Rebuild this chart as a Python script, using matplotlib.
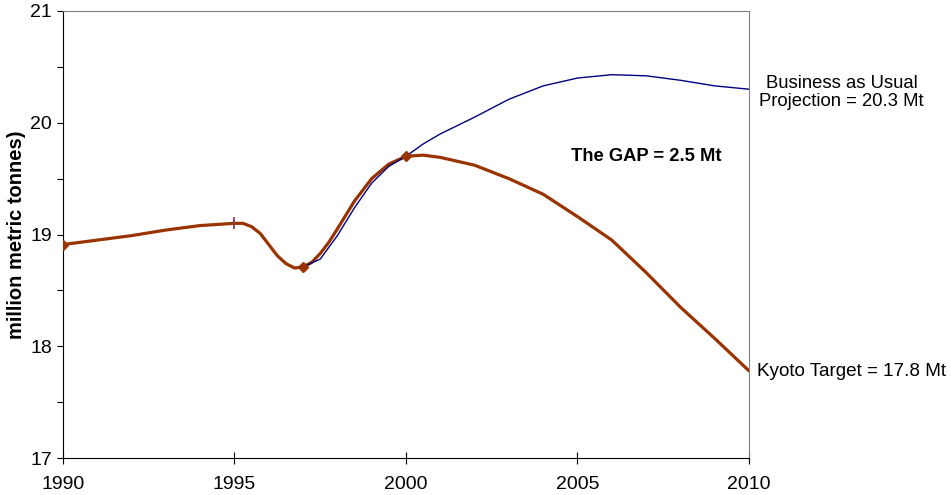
import matplotlib
matplotlib.use("Agg")
import matplotlib.pyplot as plt
from matplotlib.ticker import MultipleLocator

plt.rcParams["font.family"] = ["Liberation Sans", "DejaVu Sans"]

# Kyoto target path (million metric tonnes)
kyoto_years = [1990, 1991, 1992, 1993, 1994, 1995, 1995.25, 1995.5, 1995.75, 1996,
               1996.25, 1996.5, 1996.75, 1997, 1997.25, 1997.5, 1997.75, 1998,
               1998.5, 1999, 1999.5, 2000, 2000.5, 2001, 2002,
               2003, 2004, 2005, 2006, 2007, 2008, 2009, 2010]
kyoto_values = [18.91, 18.95, 18.99, 19.04, 19.08, 19.10, 19.10, 19.07, 19.01, 18.91,
                18.81, 18.74, 18.70, 18.71, 18.75, 18.83, 18.93, 19.05,
                19.30, 19.50, 19.63, 19.70, 19.71, 19.69, 19.62,
                19.50, 19.36, 19.16, 18.95, 18.66, 18.35, 18.07, 17.78]

# Business as usual projection
bau_years = [1997, 1997.5, 1998, 1998.5, 1999, 1999.5, 2000, 2000.5, 2001, 2002,
             2003, 2004, 2005, 2006, 2007, 2008, 2009, 2010]
bau_values = [18.71, 18.78, 18.99, 19.24, 19.46, 19.61, 19.70, 19.81, 19.90, 20.05,
              20.21, 20.33, 20.40, 20.43, 20.42, 20.38, 20.33, 20.30]

# marked points on the Kyoto path
diamond_years = [1990, 1997, 2000]
tick_years = [1995]

brown = "#993300"
navy = "#000080"

fig = plt.figure(figsize=(9.51, 4.95), dpi=100)
ax = fig.add_axes([0.0662, 0.0747, 0.7214, 0.9031])

ax.plot(kyoto_years, kyoto_values, color=brown, lw=2.3, zorder=2,
        solid_capstyle="round", solid_joinstyle="round")
ax.plot(bau_years, bau_values, color=navy, lw=1.0, zorder=3)

dv = [kyoto_values[kyoto_years.index(y)] for y in diamond_years]
ax.plot(diamond_years, dv, ls="none", marker="D", ms=5, color=brown, zorder=4)
tv = [kyoto_values[kyoto_years.index(y)] for y in tick_years]
ax.plot(tick_years, tv, ls="none", marker="|", ms=9, mew=1.3, color="#8B3A5A", zorder=4)

ax.set_xlim(1990, 2010)
ax.set_ylim(17, 21)
ax.xaxis.set_major_locator(MultipleLocator(5))
ax.yaxis.set_major_locator(MultipleLocator(1))
ax.yaxis.set_minor_locator(MultipleLocator(0.5))
ax.tick_params(axis="x", direction="inout", length=8, width=0.8, labelsize=14, pad=9)
ax.tick_params(axis="y", which="both", direction="out", length=4, width=0.8,
               labelsize=14, pad=4)

for s in ["top", "right"]:
    ax.spines[s].set_color("#808080")
    ax.spines[s].set_linewidth(0.8)
for s in ["left", "bottom"]:
    ax.spines[s].set_color("black")
    ax.spines[s].set_linewidth(0.8)

ax.set_ylabel("million metric tonnes)", fontsize=14.5, fontweight="bold")
ax.yaxis.set_label_coords(-0.054, 0.5)

ax.text(2007.0, 19.70, "The GAP = 2.5 Mt", fontsize=13.2, fontweight="bold",
        ha="center", va="center")
fig.text(0.885, 0.813, "Business as Usual\nProjection = 20.3 Mt", fontsize=13.3,
         ha="center", va="center", linespacing=1.1)
fig.text(0.796, 0.25, "Kyoto Target = 17.8 Mt", fontsize=13.6, ha="left", va="center")

fig.savefig("out.png", dpi=100)
